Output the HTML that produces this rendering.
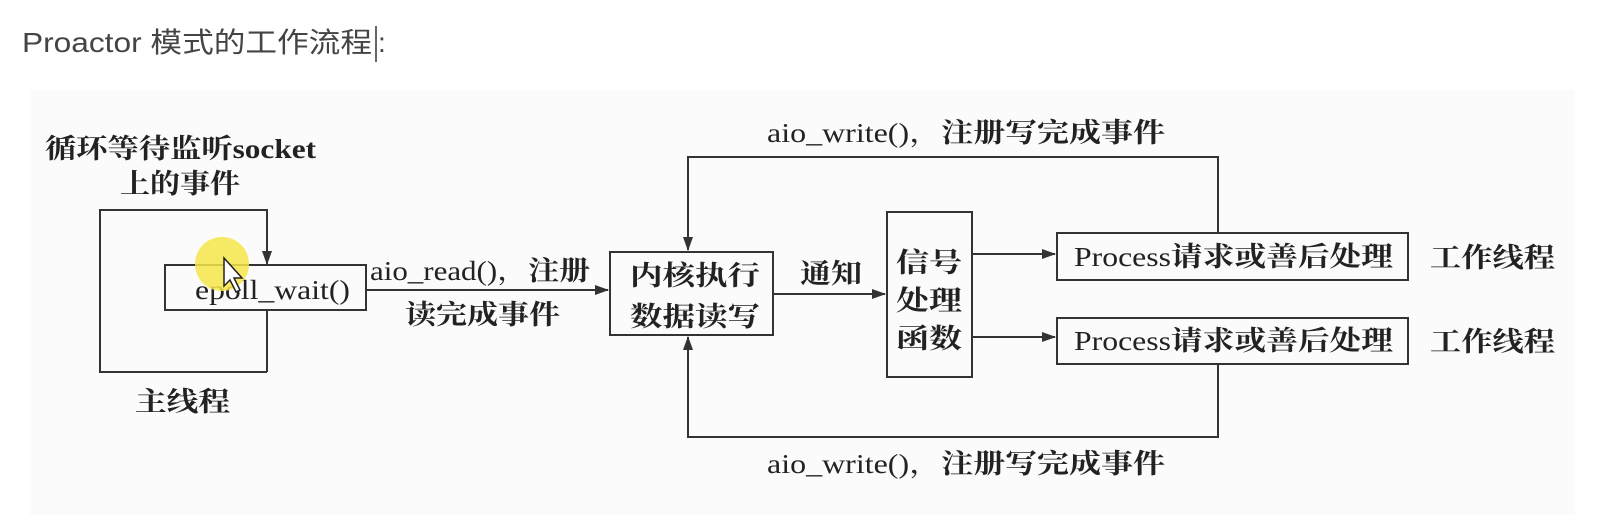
<!DOCTYPE html>
<html><head><meta charset="utf-8"><style>
html,body{margin:0;padding:0;background:#fff;width:1598px;height:531px;overflow:hidden}
</style></head><body>
<svg width="1598" height="531" viewBox="0 0 1598 531" xmlns="http://www.w3.org/2000/svg">
<rect x="30" y="90" width="1545" height="425" fill="#fbfbfb"/>
<text x="22" y="52" font-family="Liberation Sans, 'Noto Sans CJK SC', sans-serif" font-size="28" fill="#444" textLength="350" lengthAdjust="spacingAndGlyphs">Proactor 模式的工作流程</text>
<text x="378" y="52" font-family="Liberation Sans, sans-serif" font-size="28" fill="#444">:</text>
<line x1="376" y1="26" x2="376" y2="62" stroke="#333" stroke-width="1.5"/>
<defs><marker id="a" markerWidth="14" markerHeight="10" refX="13" refY="5" orient="auto" markerUnits="userSpaceOnUse"><path d="M0,0 L14,5 L0,10 Z" fill="#333"/></marker></defs>
<g stroke="#333" stroke-width="2" fill="none">
<polyline points="267,372 100,372 100,210 267,210 267,264" marker-end="url(#a)"/>
<line x1="267" y1="310" x2="267" y2="372"/>
<rect x="165" y="265" width="201" height="45" fill="#fbfbfb"/>
<line x1="366" y1="290" x2="608" y2="290" marker-end="url(#a)"/>
<rect x="610" y="252" width="163" height="83"/>
<line x1="773" y1="294" x2="885" y2="294" marker-end="url(#a)"/>
<rect x="887" y="212" width="85" height="165"/>
<line x1="972" y1="254" x2="1055" y2="254" marker-end="url(#a)"/>
<line x1="972" y1="337" x2="1055" y2="337" marker-end="url(#a)"/>
<rect x="1057" y="233" width="351" height="47"/>
<rect x="1057" y="318" width="351" height="46"/>
<polyline points="1218,233 1218,157 688,157 688,250" marker-end="url(#a)"/>
<polyline points="1218,364 1218,437 688,437 688,337" marker-end="url(#a)"/>
</g>
<g font-family="Liberation Serif, 'Noto Serif CJK SC', serif" font-weight="bold" fill="#222" font-size="27" lengthAdjust="spacingAndGlyphs">
<text x="45" y="158" textLength="271" lengthAdjust="spacingAndGlyphs">循环等待监听socket</text>
<text x="120" y="193" textLength="120" lengthAdjust="spacingAndGlyphs">上的事件</text>
<text x="135" y="411" textLength="95" lengthAdjust="spacingAndGlyphs">主线程</text>
<text x="370" y="280" font-weight="normal" textLength="220" lengthAdjust="spacingAndGlyphs">aio_read()，<tspan font-weight="bold">注册</tspan></text>
<text x="405" y="324" textLength="155" lengthAdjust="spacingAndGlyphs">读完成事件</text>
<text x="630" y="285" textLength="130" lengthAdjust="spacingAndGlyphs">内核执行</text>
<text x="630" y="326" textLength="130" lengthAdjust="spacingAndGlyphs">数据读写</text>
<text x="800" y="283" textLength="62" lengthAdjust="spacingAndGlyphs">通知</text>
<text x="896" y="272" textLength="66" lengthAdjust="spacingAndGlyphs">信号</text>
<text x="896" y="310" textLength="66" lengthAdjust="spacingAndGlyphs">处理</text>
<text x="896" y="348" textLength="66" lengthAdjust="spacingAndGlyphs">函数</text>
<text x="1074" y="266" font-weight="normal" textLength="319" lengthAdjust="spacingAndGlyphs">Process<tspan font-weight="bold">请求或善后处理</tspan></text>
<text x="1074" y="350" font-weight="normal" textLength="319" lengthAdjust="spacingAndGlyphs">Process<tspan font-weight="bold">请求或善后处理</tspan></text>
<text x="1430" y="267" textLength="125" lengthAdjust="spacingAndGlyphs">工作线程</text>
<text x="1430" y="351" textLength="125" lengthAdjust="spacingAndGlyphs">工作线程</text>
<text x="767" y="142" font-weight="normal" textLength="398" lengthAdjust="spacingAndGlyphs">aio_write()，<tspan font-weight="bold">注册写完成事件</tspan></text>
<text x="767" y="473" font-weight="normal" textLength="398" lengthAdjust="spacingAndGlyphs">aio_write()，<tspan font-weight="bold">注册写完成事件</tspan></text>
</g>
<text x="195" y="299" font-family="Liberation Serif, serif" font-size="27" fill="#222" textLength="155" lengthAdjust="spacingAndGlyphs">epoll_wait()</text>
<circle cx="222" cy="264" r="27" fill="#f4e64a" opacity="0.85"/>
<path d="M224,258 L224,286 L230,280 L236,292 L240,290 L234,278 L242,278 Z" fill="#fff" stroke="#222" stroke-width="1.5"/>
</svg>
</body></html>
